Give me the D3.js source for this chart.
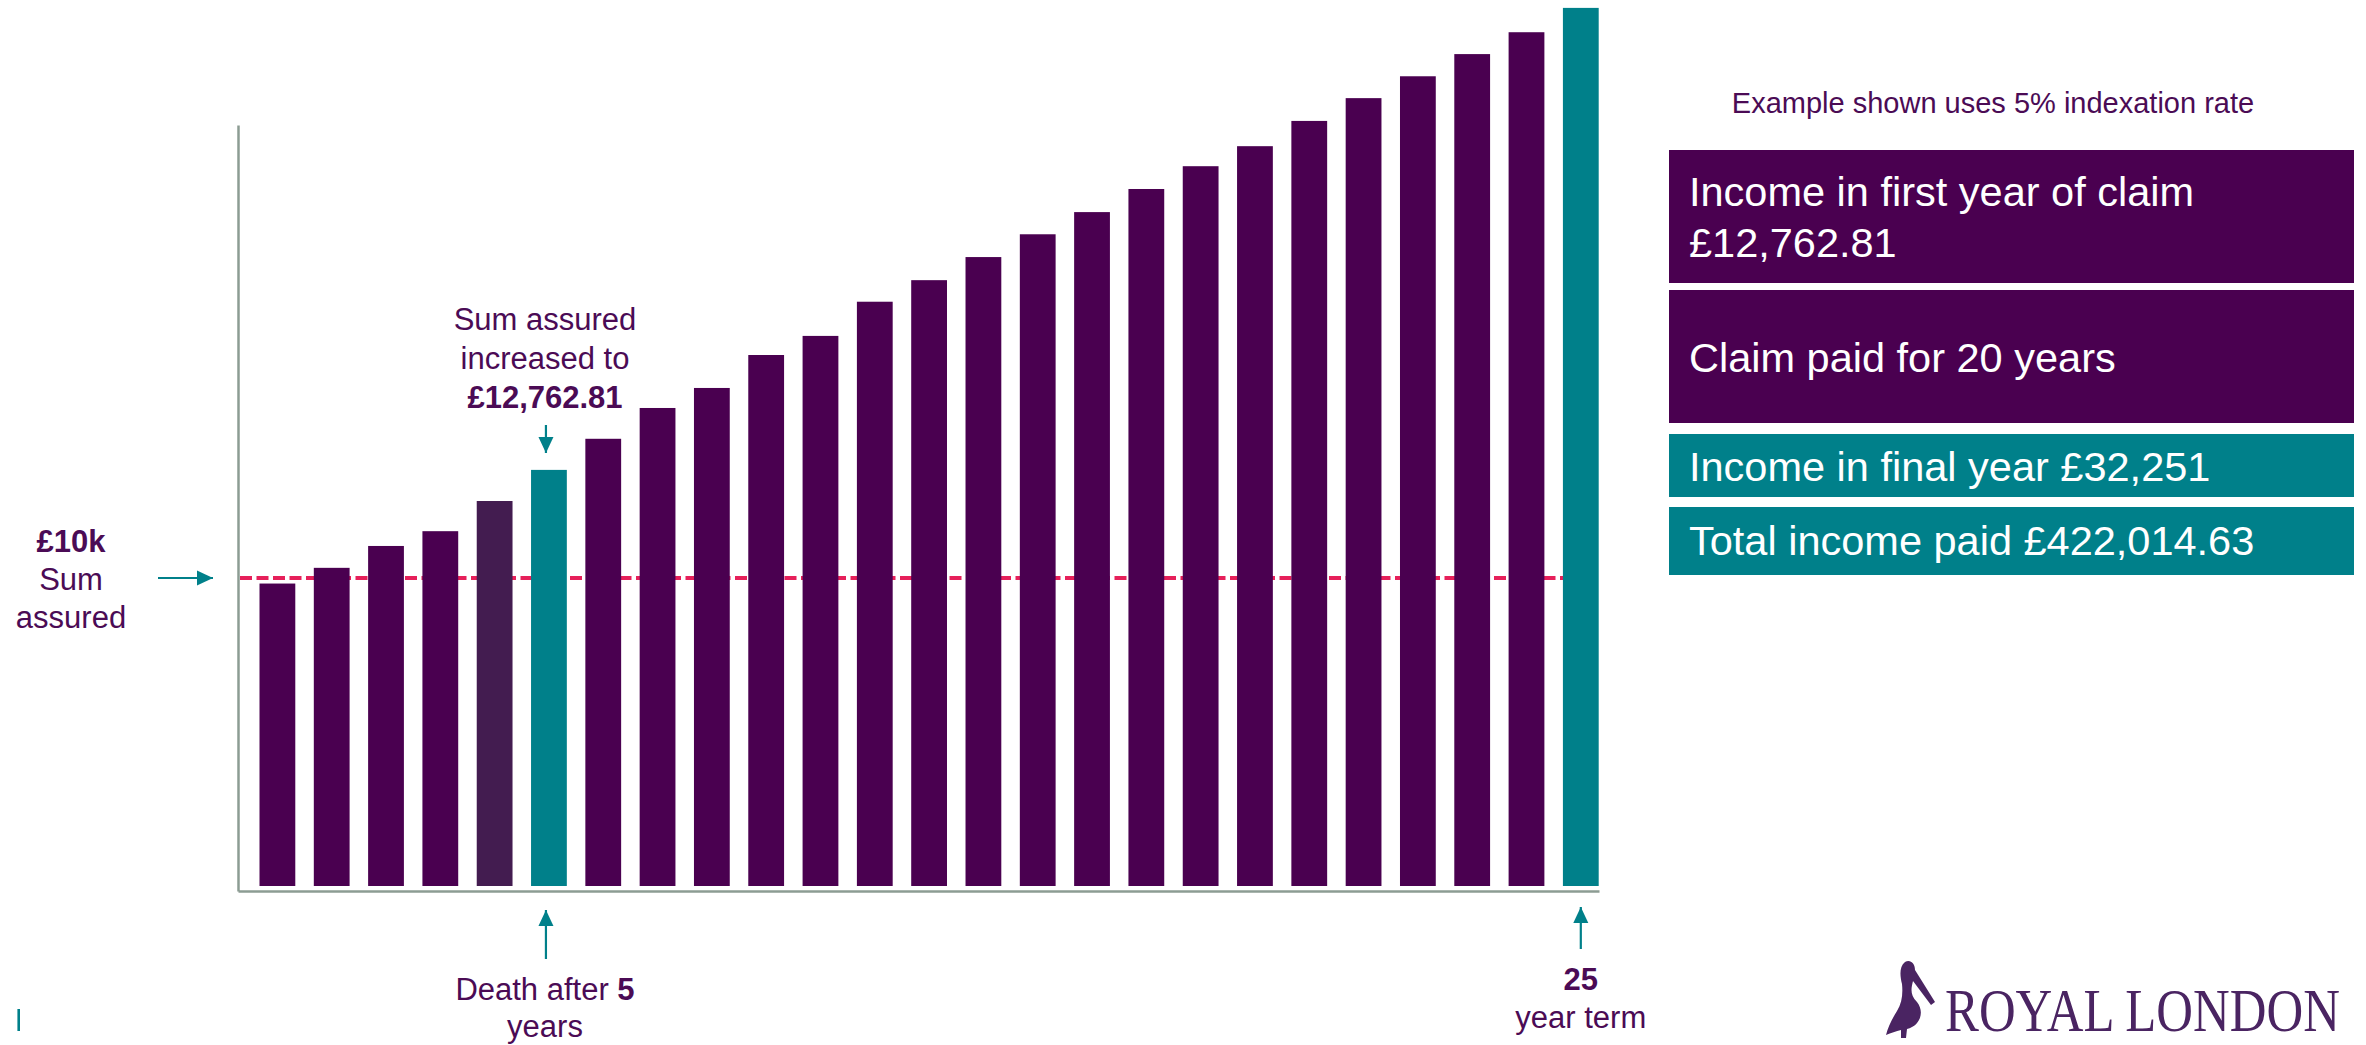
<!DOCTYPE html>
<html>
<head>
<meta charset="utf-8">
<script src="https://cdn.jsdelivr.net/npm/d3@7"></script>
<style>
  html, body { margin: 0; padding: 0; background: #ffffff; }
  svg { display: block; }
  text { font-family: "Liberation Sans", Arial, sans-serif; }
  text.logo { font-family: "Liberation Serif", "Times New Roman", serif; }
</style>
</head>
<body>
<svg id="chart" width="2366" height="1045"></svg>
<script>
// ---- data ----
const years = d3.range(1, 26);
const barValues = [9820, 10330, 11040, 11520, 12500, 13510, 14520, 15520, 16170, 17240,
                   17860, 18970, 19670, 20420, 21160, 21880, 22630, 23370, 24020, 24840,
                   25580, 26290, 27010, 27720, 28510];
const sumAssured = 10000;
const deathYear = 6;      // highlighted bar (claim starts)
const preDeathYear = 5;   // darker bar
const termYear = 25;
const infoBoxes = [
  { lines: ["Income in first year of claim", "£12,762.81"], kind: "purple" },
  { lines: ["Claim paid for 20 years"], kind: "purple" },
  { lines: ["Income in final year £32,251"], kind: "teal" },
  { lines: ["Total income paid £422,014.63"], kind: "teal" }
];
const noteText = "Example shown uses 5% indexation rate";

// ---- colours ----
const PURPLE = "#4a0050";
const DARK = "#431c50";
const TEAL = "#00808a";
const TEXT = "#4b0b55";
const RED = "#e6205a";
const AXIS = "#8c9c93";

const svg = d3.select("#chart");

// ---- scales ----
const x = d3.scaleBand().domain(years).range([259.5, 1598.7]).paddingInner(0.341).paddingOuter(0);
const y = d3.scaleLinear().domain([0, sumAssured]).range([886, 578]);

// defs: arrow head
const defs = svg.append("defs");
defs.append("marker").attr("id", "ah").attr("viewBox", "0 0 16 16")
  .attr("refX", 16).attr("refY", 8).attr("markerWidth", 16).attr("markerHeight", 16)
  .attr("markerUnits", "userSpaceOnUse").attr("orient", "auto")
  .append("path").attr("d", "M0,0.5 L16,8 L0,15.5 Z").attr("fill", TEAL);

// ---- sum assured dashed line (behind bars) ----
svg.append("line")
  .attr("x1", 240).attr("x2", 1563)
  .attr("y1", y(sumAssured)).attr("y2", y(sumAssured))
  .attr("stroke", RED).attr("stroke-width", 4.2).attr("stroke-dasharray", "12,4.5");

// ---- bars ----
svg.append("g").selectAll("rect").data(years).join("rect")
  .attr("x", d => x(d))
  .attr("width", x.bandwidth())
  .attr("y", (d, i) => y(barValues[i]))
  .attr("height", (d, i) => y(0) - y(barValues[i]))
  .attr("fill", d => d === deathYear || d === termYear ? TEAL : (d === preDeathYear ? DARK : PURPLE));

// ---- axes ----
const yAxisScale = d3.scaleLinear().domain([y.invert(891), y.invert(125)]).range([891, 125]);
const xAxisScale = d3.scaleLinear().domain([0, 1]).range([238, 1599]);
const gy = svg.append("g").attr("transform", "translate(238,0)")
  .call(d3.axisLeft(yAxisScale).tickValues([]).tickSizeOuter(0));
const gx = svg.append("g").attr("transform", "translate(0,891)")
  .call(d3.axisBottom(xAxisScale).tickValues([]).tickSizeOuter(0));
[gy, gx].forEach(g => g.select(".domain").attr("stroke", AXIS).attr("stroke-width", 2.5));

// ---- arrows ----
function arrow(x1, y1, x2, y2) {
  svg.append("line").attr("x1", x1).attr("y1", y1).attr("x2", x2).attr("y2", y2)
    .attr("stroke", TEAL).attr("stroke-width", 2.2).attr("marker-end", "url(#ah)");
}
const cx6 = x(deathYear) + x.bandwidth() / 2 - 3;
const cx25 = x(termYear) + x.bandwidth() / 2;
arrow(158, y(sumAssured), 213, y(sumAssured));
arrow(cx6, 425, cx6, 453);
arrow(cx6, 959, cx6, 910);
arrow(cx25, 949, cx25, 907);

// ---- annotation text ----
function multiline(cx, baselines, parts, size) {
  const t = svg.append("text").attr("text-anchor", "middle").attr("fill", TEXT).attr("font-size", size);
  parts.forEach((line, i) => {
    const ts = t.append("tspan").attr("x", cx).attr("y", baselines[i]);
    line.forEach(seg => ts.append("tspan").text(seg.t).attr("font-weight", seg.b ? "bold" : "normal"));
  });
}
multiline(71, [552, 590, 628], [[{ t: "£10k", b: true }], [{ t: "Sum" }], [{ t: "assured" }]], 31);
multiline(545, [330, 369, 408], [[{ t: "Sum assured" }], [{ t: "increased to" }], [{ t: "£12,762.81", b: true }]], 31);
multiline(545, [1000, 1037], [[{ t: "Death after " }, { t: "5", b: true }], [{ t: "years" }]], 31);
multiline(cx25, [990, 1028], [[{ t: "25", b: true }], [{ t: "year term" }]], 31);

// ---- right panel ----
svg.append("text").attr("x", 1993).attr("y", 113).attr("text-anchor", "middle")
  .attr("fill", TEXT).attr("font-size", 29).text(noteText);

const boxGeom = [
  { y0: 150, y1: 283, base: [206, 257] },
  { y0: 290, y1: 423, base: [372] },
  { y0: 434, y1: 497, base: [481] },
  { y0: 507, y1: 575, base: [555] }
];
infoBoxes.forEach((b, i) => {
  const g = boxGeom[i];
  svg.append("rect").attr("x", 1669).attr("y", g.y0).attr("width", 685).attr("height", g.y1 - g.y0)
    .attr("fill", b.kind === "teal" ? TEAL : PURPLE);
  b.lines.forEach((ln, j) => {
    svg.append("text").attr("x", 1689).attr("y", g.base[j]).attr("fill", "#ffffff")
      .attr("font-size", 41.5).text(ln);
  });
});

// ---- small mark bottom-left ----
svg.append("line").attr("x1", 18.7).attr("x2", 18.7).attr("y1", 1009).attr("y2", 1031)
  .attr("stroke", TEAL).attr("stroke-width", 2.6);

// ---- logo ----
const LOGO = "#4a2462";
svg.append("path")
  .attr("d", "M1905,962 C1910,959 1915,963 1915,970 L1935,1002 L1931,1005 L1913,981 C1911,989 1910,995 1917,1002 C1925,1012 1920,1026 1907,1029 L1906,1038 L1901,1038 L1901,1030 C1896,1031 1891,1033 1886,1035 C1888,1027 1892,1019 1897,1011 C1902,1003 1903,994 1902,984 C1900,976 1899,967 1905,962 Z")
  .attr("fill", LOGO);
svg.append("text").attr("class", "logo").attr("transform", "translate(1945,1031) scale(0.82,1)")
  .attr("font-size", 62).attr("fill", LOGO).text("ROYAL LONDON");
</script>
</body>
</html>
